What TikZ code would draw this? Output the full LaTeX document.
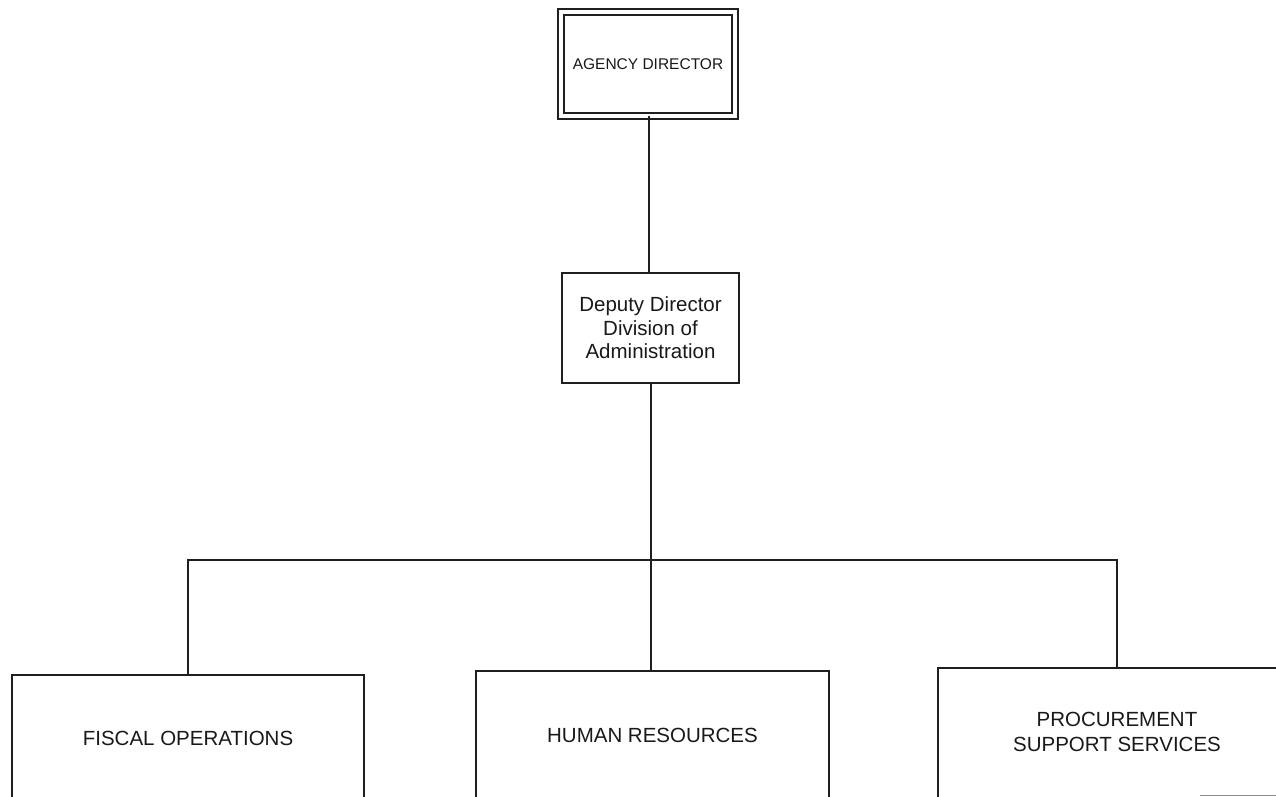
\documentclass[tikz,border=0pt]{standalone}
\usepackage{fontspec}
\setmainfont{Liberation Sans}
\usetikzlibrary{calc}
\begin{document}
\begin{tikzpicture}[x=1pt,y=-1pt,
  ink/.style={draw=black!88, line width=2pt},
  unitbox/.style={ink, rectangle, inner sep=0pt, align=center, text=black!90},
  openbox/.style={rectangle, inner sep=0pt, align=center, text=black!90,
    font=\fontsize{20.5}{25}\selectfont},
  link/.style={ink, line cap=rect}]
  \useasboundingbox (0,0) rectangle (1276,797);
  \clip (0,0) rectangle (1276,797);

  % head of the agency, framed by a double rule
  \node[unitbox, double=white, double distance=4pt,
        minimum width=174pt, minimum height=104pt,
        font=\fontsize{15.5}{19}\selectfont] (director) at (648,64) {AGENCY DIRECTOR};

  % deputy in charge of administration
  \node[unitbox, minimum width=177pt, minimum height=110pt,
        font=\fontsize{20.5}{23.5}\selectfont] (deputy) at (650.5,328)
        {Deputy Director\\Division of\\Administration};

  % three sections, open at the bottom edge
  \node[openbox, minimum width=351pt, minimum height=126pt] (fiscal) at (188,738) {FISCAL OPERATIONS};
  \node[openbox, minimum width=353pt, minimum height=128pt] (hr) at (652.5,735) {HUMAN RESOURCES};
  \node[openbox, minimum width=358pt, minimum height=128pt] (proc) at (1117,732) {PROCUREMENT\\SUPPORT SERVICES};
  \foreach \n in {fiscal,hr,proc}
    \draw[ink] ($(\n.south west)+(0,20)$) -- (\n.north west) -- (\n.north east) -- ($(\n.south east)+(0,20)$);

  % reporting lines
  \coordinate (upper) at (649,0);
  \coordinate (bus) at (651,560);
  \draw[link] (director.south -| upper) -- (deputy.north -| upper);
  \draw[link] (deputy.south -| bus) -- (bus) -- (hr.north -| bus);
  \draw[link] (fiscal.north) |- (bus) -| (proc.north);

  % rule at the lower right edge
  \coordinate (edgeA) at (1200,795.5);
  \coordinate (edgeB) at (1276,795.5);
  \draw[black!45, line width=1.2pt] (edgeA) -- (edgeB);
\end{tikzpicture}
\end{document}
